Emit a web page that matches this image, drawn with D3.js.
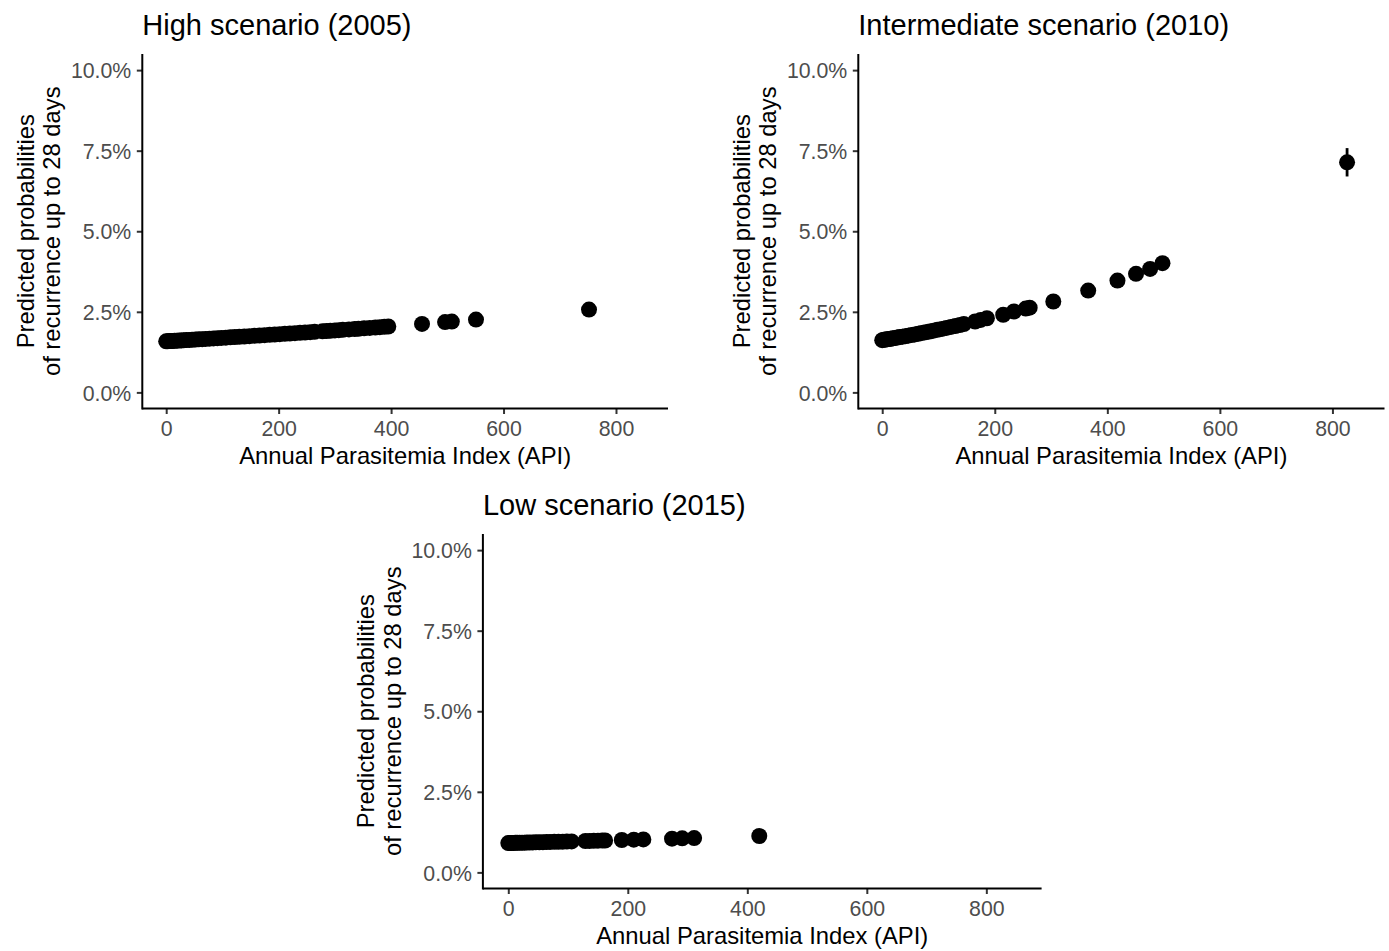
<!DOCTYPE html>
<html>
<head>
<meta charset="utf-8">
<script src="https://cdn.jsdelivr.net/npm/d3@7"></script>
<style>
  html, body { margin: 0; padding: 0; background: #fff; }
  svg { display: block; font-family: "Liberation Sans", Arial, Helvetica, sans-serif; }
</style>
</head>
<body>
<svg id="chart" width="1389" height="951"></svg>
<script>
// ---------------- data ----------------
const xTicks = [0, 200, 400, 600, 800];
const yTicks = [0, 2.5, 5, 7.5, 10];           // percent
const xLimits = [0, 850];
const yLimits = [0, 10];

const titles = ["High scenario (2005)", "Intermediate scenario (2010)", "Low scenario (2015)"];
const xLabel = "Annual Parasitemia Index (API)";
const yLabelLines = ["Predicted probabilities", "of recurrence up to 28 days"];

// High scenario (2005)
const highApi  = [0,3,6,9,12,15,19,23,27,31,36,41,46,52,58,64,70,77,84,91,98,106,114,122,130,139,148,157,166,175,184,193,202,211,220,229,238,247,256,264,
                  278,285,292,300,307,314,325,335,342,352,362,372,380,388,395,455,496,508,551,752];
const highProb = [1.585,1.588,1.591,1.594,1.597,1.600,1.605,1.609,1.613,1.618,1.623,1.628,1.633,1.639,1.646,1.652,1.659,1.666,1.674,1.682,1.689,1.698,1.707,1.716,1.725,1.735,1.745,1.755,1.765,1.775,1.785,1.795,1.806,1.816,1.826,1.837,1.848,1.858,1.869,1.878,
                  1.894,1.903,1.911,1.923,1.931,1.940,1.953,1.966,1.975,1.988,2.001,2.014,2.024,2.034,2.044,2.124,2.181,2.198,2.259,2.570];

// Intermediate scenario (2010)
const interApi  = [0,3,6,9,12,15,19,23,27,31,36,41,46,52,58,64,70,77,84,91,98,106,114,122,130,138,145,
                   165,175,186,215,234,255,262,304,366,418,451,476,498,826];
const interProb = [1.62,1.63,1.64,1.65,1.655,1.665,1.68,1.69,1.70,1.715,1.73,1.745,1.76,1.78,1.80,1.82,1.84,1.865,1.89,1.915,1.94,1.97,2.00,2.03,2.06,2.09,2.12,
                   2.20,2.25,2.30,2.41,2.51,2.60,2.63,2.82,3.16,3.47,3.68,3.83,4.01,7.14];
const interCiApi = [826];
const interCiLo  = [6.70];
const interCiHi  = [7.58];

// Low scenario (2015)
const lowApi  = [0,3,6,9,12,15,19,23,27,31,36,41,46,52,58,64,70,77,84,91,98,106,
                 129,136,143,150,157,162,190,210,226,274,291,311,420];
const lowProb = [0.910,0.911,0.913,0.914,0.916,0.917,0.919,0.921,0.923,0.925,0.927,0.930,0.932,0.935,0.938,0.941,0.944,0.947,0.951,0.954,0.958,0.962,
                 0.973,0.977,0.980,0.984,0.987,0.990,1.004,1.014,1.022,1.047,1.056,1.066,1.130];

// ---------------- layout ----------------
const panels = [
  { title: titles[0], api: highApi,  prob: highProb,  ci: null,
    left: 142.3, right: 668,    top: 54,  bottom: 408.5 },
  { title: titles[1], api: interApi, prob: interProb, ci: { api: interCiApi, lo: interCiLo, hi: interCiHi },
    left: 858.3, right: 1384.5, top: 54,  bottom: 408.5 },
  { title: titles[2], api: lowApi,   prob: lowProb,   ci: null,
    left: 482.9, right: 1041.6, top: 534, bottom: 888.5 }
];

const svg = d3.select("#chart");
svg.append("rect").attr("width", 1389).attr("height", 951).attr("fill", "#fff");

const expand = (lim) => { const d = (lim[1] - lim[0]) * 0.05; return [lim[0] - d, lim[1] + d]; };

panels.forEach(p => {
  const x = d3.scaleLinear().domain(expand(xLimits)).range([p.left, p.right]);
  const y = d3.scaleLinear().domain(expand(yLimits)).range([p.bottom, p.top]);
  const g = svg.append("g");

  // axes
  const xAxis = d3.axisBottom(x).tickValues(xTicks).tickSize(5.5).tickPadding(4).tickFormat(d3.format("d"));
  const yAxis = d3.axisLeft(y).tickValues(yTicks).tickSize(5.5).tickPadding(4).tickFormat(d => d.toFixed(1) + "%");

  const gx = g.append("g").attr("transform", `translate(0,${p.bottom})`).call(xAxis);
  const gy = g.append("g").attr("transform", `translate(${p.left},0)`).call(yAxis);
  [gx, gy].forEach(a => {
    a.select(".domain").remove();
    a.selectAll(".tick line").attr("stroke", "#333333").attr("stroke-width", 2);
    a.selectAll(".tick text").attr("fill", "#4D4D4D").style("font-size", "21.3px")
      .style("font-family", '"Liberation Sans", Arial, Helvetica, sans-serif');
  });
  gx.selectAll(".tick text").attr("dy", null).attr("y", 27.5);
  gy.selectAll(".tick text").attr("dy", "0.36em").attr("x", -11);

  // axis lines
  g.append("line").attr("x1", p.left).attr("x2", p.right).attr("y1", p.bottom).attr("y2", p.bottom)
    .attr("stroke", "#000").attr("stroke-width", 2);
  g.append("line").attr("x1", p.left).attr("x2", p.left).attr("y1", p.top).attr("y2", p.bottom + 1)
    .attr("stroke", "#000").attr("stroke-width", 2);

  // error bars
  if (p.ci) {
    g.selectAll(".ci").data(p.ci.api.map((a, i) => ({ a, lo: p.ci.lo[i], hi: p.ci.hi[i] })))
      .join("line")
      .attr("x1", d => x(d.a)).attr("x2", d => x(d.a))
      .attr("y1", d => y(d.lo)).attr("y2", d => y(d.hi))
      .attr("stroke", "#000").attr("stroke-width", 2.8);
  }

  // points
  g.selectAll(".pt").data(p.api.map((a, i) => ({ a, v: p.prob[i] })))
    .join("circle")
    .attr("cx", d => x(d.a)).attr("cy", d => y(d.v)).attr("r", 8).attr("fill", "#000");

  // title
  svg.append("text").attr("x", p.left).attr("y", p.top - 19)
    .attr("fill", "#000").style("font-size", "29px").text(p.title);

  // x label
  svg.append("text").attr("x", (p.left + p.right) / 2).attr("y", p.bottom + 55)
    .attr("text-anchor", "middle").attr("fill", "#000").style("font-size", "23.8px").text(xLabel);

  // y label (two lines)
  const cy = (p.top + p.bottom) / 2;
  yLabelLines.forEach((t, i) => {
    const bx = p.left - 108.8 + i * 26.5;
    svg.append("text").attr("transform", `translate(${bx},${cy}) rotate(-90)`)
      .attr("text-anchor", "middle").attr("fill", "#000").style("font-size", "23.8px").text(t);
  });
});
</script>
</body>
</html>
